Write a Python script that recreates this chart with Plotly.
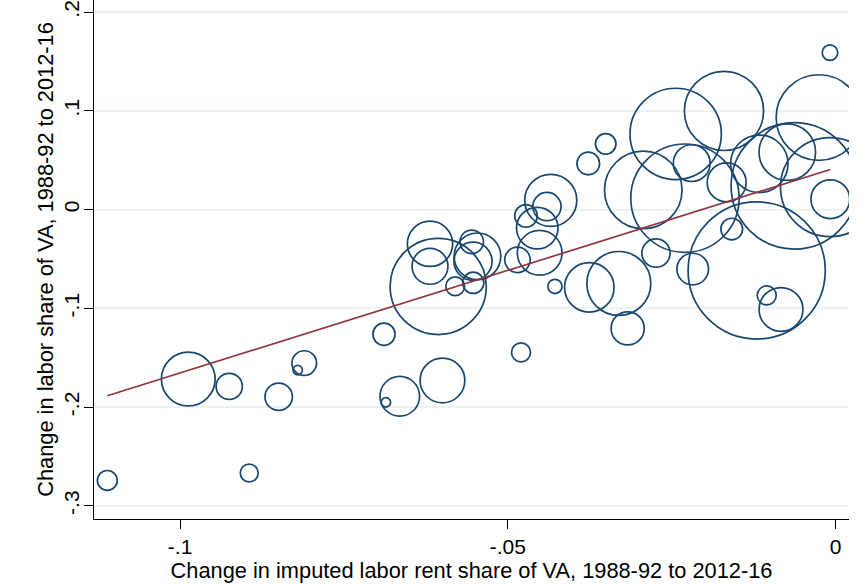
import numpy as np
import plotly.graph_objects as go

# Change in imputed labor rent share of VA (x) and labor share of VA (y), by industry
rent_change = [-0.11110, -0.09875, -0.09250, -0.08496, -0.08106, -0.08206, -0.08945,
               -0.06890, -0.06861, -0.06649, -0.05998, -0.06063, -0.06188, -0.06188,
               -0.05804, -0.05552, -0.05464, -0.05532, -0.05528, -0.04854, -0.04800,
               -0.04724, -0.04552, -0.04515, -0.04346, -0.04404, -0.04282, -0.03774,
               -0.03508, -0.03758, -0.03308, -0.03173, -0.02935, -0.02741, -0.02441,
               -0.02196, -0.02299, -0.02181, -0.01704, -0.01663, -0.01586, -0.01205,
               -0.01165, -0.01052, -0.00834, -0.00738, -0.00631, -0.00255, -0.00087,
               -0.00087, -0.00082]
labor_change = [-0.2743, -0.1717, -0.1791, -0.1896, -0.1555, -0.1626, -0.2668,
                -0.1263, -0.1953, -0.1891, -0.1731, -0.0779, -0.0347, -0.0575,
                -0.0777, -0.0327, -0.0474, -0.0524, -0.0742, -0.0509, -0.1447,
                -0.0064, -0.0188, -0.0438, 0.0093, 0.0030, -0.0779, 0.0466,
                0.0665, -0.0789, -0.0749, -0.1204, 0.0199, -0.0441, 0.0766,
                0.0470, 0.0115, -0.0603, 0.0999, 0.0275, -0.0198, -0.0617,
                0.0463, -0.0870, -0.1012, 0.0581, 0.0240, 0.0931, 0.1589,
                0.0227, 0.0105]
weights = [49, 361, 86, 94, 76, 11, 40,
           61, 11, 196, 250, 1156, 256, 161,
           44, 69, 272, 182, 56, 81, 45,
           64, 216, 250, 339, 100, 25, 64,
           53, 306, 511, 137, 751, 100, 1043,
           169, 1467, 125, 784, 190, 59, 2352,
           412, 45, 240, 400, 1998, 918, 30,
           1225, 188]

x_ticks = [-0.1, -0.05, 0]
x_ticklabels = ["-.1", "-.05", "0"]
y_ticks = [-0.3, -0.2, -0.1, 0, 0.1, 0.2]
y_ticklabels = ["-.3", "-.2", "-.1", "0", ".1", ".2"]

x = np.array(rent_change)
y = np.array(labor_change)
w = np.array(weights, dtype=float)

# weighted linear fit (analytic weights)
W = np.sum(w)
xm = np.sum(w * x) / W
ym = np.sum(w * y) / W
slope = np.sum(w * (x - xm) * (y - ym)) / np.sum(w * (x - xm) ** 2)
intercept = ym - slope * xm
xfit = np.array([x.min(), x.max()])
yfit = intercept + slope * xfit

navy = "#1a476f"
maroon = "#90353b"
font = "Liberation Sans, Arial, sans-serif"

fig = go.Figure()
fig.add_trace(go.Scatter(
    x=x, y=y, mode="markers",
    marker=dict(symbol="circle-open", size=w, sizemode="area", sizeref=0.25,
                color=navy, opacity=1, line=dict(color=navy, width=1.7)),
    showlegend=False, hoverinfo="x+y"))
fig.add_trace(go.Scatter(
    x=xfit, y=yfit, mode="lines",
    line=dict(color=maroon, width=1.7), showlegend=False))

fig.update_layout(
    width=865, height=586,
    margin=dict(l=94, r=16, t=0, b=67, autoexpand=False),
    paper_bgcolor="white", plot_bgcolor="white",
    font=dict(family=font, size=21, color="black"),
    xaxis=dict(range=[-0.11313, 0.00203], tickvals=x_ticks, ticktext=x_ticklabels,
               ticks="outside", ticklen=9, tickwidth=1.3, tickcolor="black",
               showline=True, linecolor="black", linewidth=1.3,
               showgrid=False, zeroline=False, automargin=False,
               title=dict(text="Change in imputed labor rent share of VA, 1988-92 to 2012-16",
                          standoff=0, font=dict(size=21.8))),
    yaxis=dict(range=[-0.3134, 0.2122], tickvals=y_ticks, ticktext=y_ticklabels,
               tickangle=-90, ticks="outside", ticklen=9, tickwidth=1.3, tickcolor="black",
               ticklabelstandoff=-4,
               showline=True, linecolor="black", linewidth=1.3,
               showgrid=True, gridcolor="#eaf2f3", gridwidth=1.5,
               zeroline=False, automargin=False,
               title=dict(text="Change in labor share of VA, 1988-92 to 2012-16",
                          standoff=0, font=dict(size=21.8))),
)

fig.write_html("out.html", config={"displayModeBar": False},
               post_script="document.body.style.margin='0';document.body.style.padding='0';")
